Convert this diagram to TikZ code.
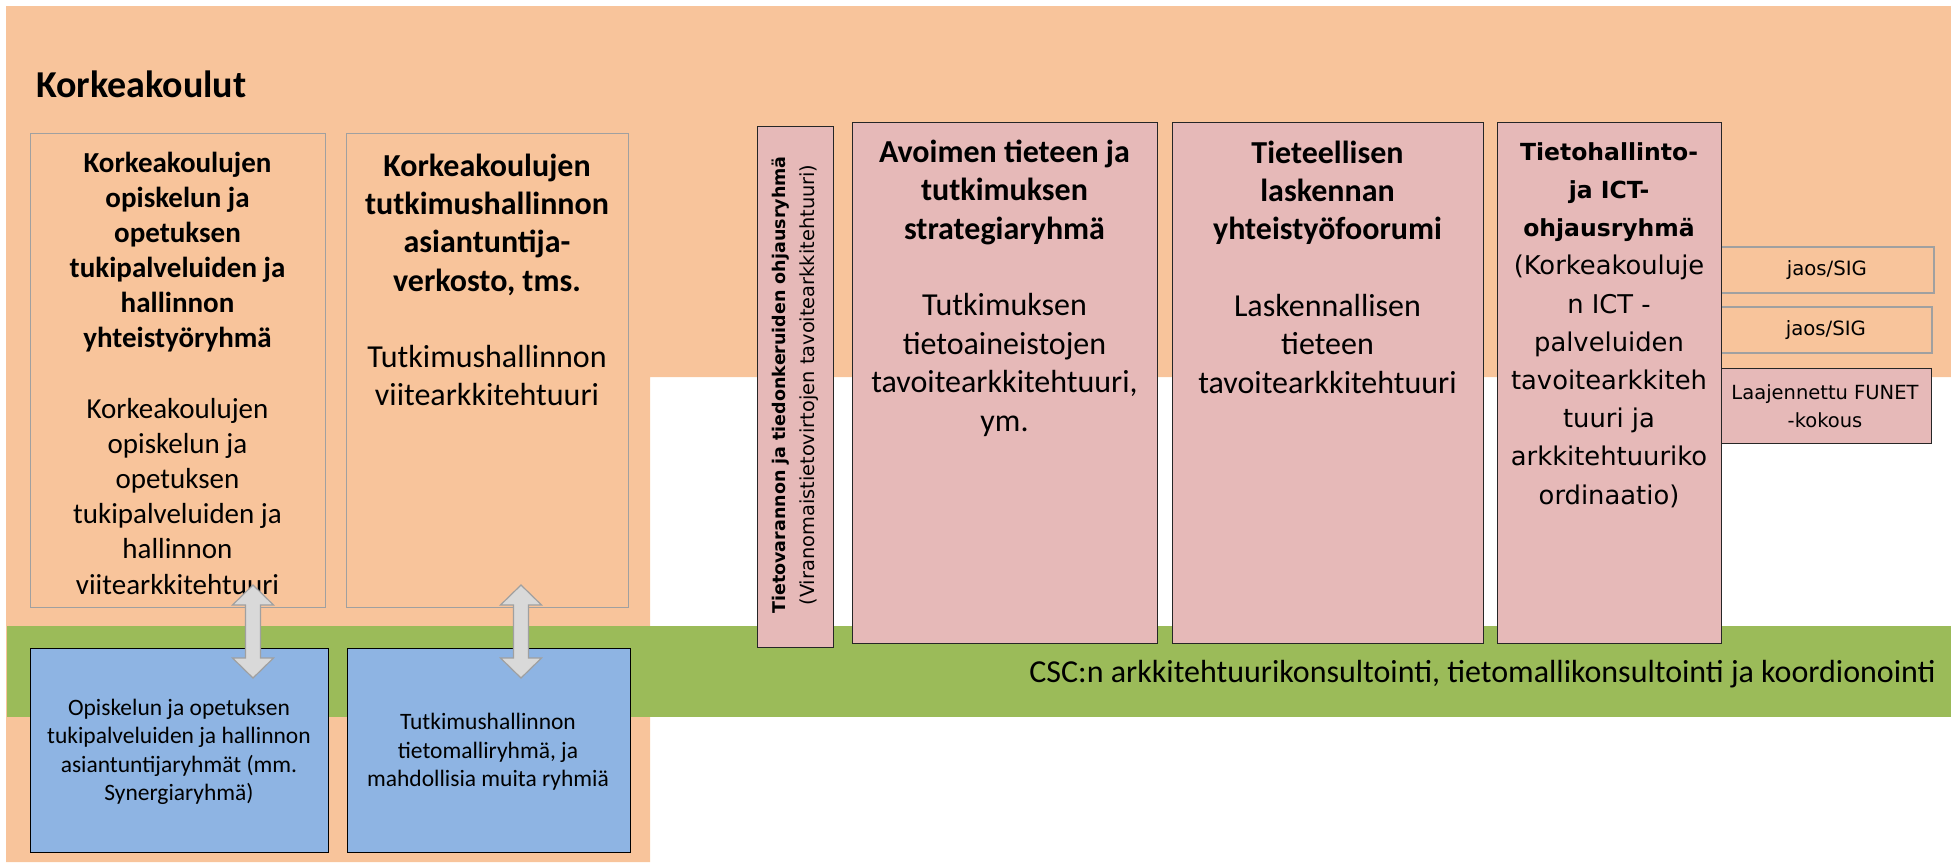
\documentclass[tikz,border=0pt]{standalone}
\usepackage{fontspec}
\setmainfont{Carlito}
\newfontfamily\dvs{DejaVu Sans}
\usetikzlibrary{calc}
\newcommand\myfs[2]{\fontsize{#1}{#2}\selectfont}
\definecolor{bgorange}{HTML}{F8C49B}
\definecolor{bandgreen}{HTML}{9BBB59}
\definecolor{pinkfill}{HTML}{E6B9B8}
\definecolor{bluefill}{HTML}{8EB4E3}
\definecolor{graybord}{HTML}{A0A0A0}
\definecolor{arrowfill}{HTML}{D9D9D9}
\definecolor{arrowline}{HTML}{A0A0A0}
\begin{document}
\begin{tikzpicture}[x=1pt,y=-1pt,
  orgbox/.style={draw=graybord, line width=1.3pt, fill=bgorange, inner sep=0pt, anchor=north west},
  pinkbox/.style={draw=black!85, line width=1.3pt, fill=pinkfill, inner sep=0pt, anchor=north west},
  bluebox/.style={draw=black, line width=1.3pt, fill=bluefill, inner sep=0pt, anchor=north west},
  sigbox/.style={draw=graybord, line width=1.6pt, fill=bgorange, inner sep=0pt, anchor=north west},
  txt/.style={inner sep=0pt, align=center, text=black},
  blockarrow/.style={draw=arrowline, line width=1.2pt, fill=arrowfill, line join=miter}
]
\useasboundingbox (0,0) rectangle (1951,862);
% background areas
\fill[bgorange] (6,6) -- (1951,6) -- (1951,377) -- (650,377) -- (650,862) -- (6,862) -- cycle;
\fill[bandgreen] (7,626) rectangle (1951,717);

% title
\node[txt, font=\myfs{38}{46}\bfseries, anchor=base west] (title) at (36,97) {Korkeakoulut};

% left orange boxes
\node[orgbox, minimum width=295, minimum height=474] (b1) at (30,133) {};
\node[orgbox, minimum width=282, minimum height=474] (b2) at (346,133) {};

% blue boxes
\node[bluebox, minimum width=298, minimum height=204] (u1) at (30,648) {};
\node[bluebox, minimum width=283, minimum height=204] (u2) at (347,648) {};

% pink boxes
\node[pinkbox, minimum width=76, minimum height=521] (p0) at (757,126) {};
\node[pinkbox, minimum width=305, minimum height=521] (p1) at (852,122) {};
\node[pinkbox, minimum width=311, minimum height=521] (p2) at (1172,122) {};

% side boxes
\node[sigbox, minimum width=214, minimum height=46] (s1) at (1719,246) {};
\node[sigbox, minimum width=212, minimum height=46] (s2) at (1719,306) {};
\node[pinkbox, minimum width=212, minimum height=75] (s3) at (1719,368) {};
\node[pinkbox, minimum width=224, minimum height=521] (p3) at (1497,122) {};

% texts
\node[txt, font=\myfs{29}{35.17}] (t1) at (177.5,373) {\textbf{Korkeakoulujen}\\\textbf{opiskelun ja}\\\textbf{opetuksen}\\\textbf{tukipalveluiden ja}\\\textbf{hallinnon}\\\textbf{yhteistyöryhmä}\\[35.17pt]Korkeakoulujen\\opiskelun ja\\opetuksen\\tukipalveluiden ja\\hallinnon\\viitearkkitehtuuri};

\node[txt, font=\myfs{32}{38.2}] (t2) at (487,280) {\textbf{Korkeakoulujen}\\\textbf{tutkimushallinnon}\\\textbf{asiantuntija-}\\\textbf{verkosto, tms.}\\[38.2pt]Tutkimushallinnon\\viitearkkitehtuuri};

\node[txt, rotate=90, font=\dvs\myfs{19.4}{29}] (tp0) at (795.5,385) {{\bfseries\fontsize{17.5}{29}\selectfont Tietovarannon ja tiedonkeruiden ohjausryhmä}\\(Viranomaistietovirtojen tavoitearkkitehtuuri)};

\node[txt, font=\myfs{32}{38.4}] (tp1) at (1004.5,288) {\textbf{Avoimen tieteen ja}\\\textbf{tutkimuksen}\\\textbf{strategiaryhmä}\\[38.4pt]Tutkimuksen\\tietoaineistojen\\tavoitearkkitehtuuri,\\ym.};

\node[txt, font=\myfs{32}{38.3}] (tp2) at (1327.5,267) {\textbf{Tieteellisen}\\\textbf{laskennan}\\\textbf{yhteistyöfoorumi}\\[38.3pt]Laskennallisen\\tieteen\\tavoitearkkitehtuuri};

\node[txt, font=\dvs\myfs{25.8}{38.2}] (tp3) at (1609,325) {{\bfseries\fontsize{23.5}{38.2}\selectfont Tietohallinto-}\\{\bfseries\fontsize{23.5}{38.2}\selectfont ja ICT-}\\{\bfseries\fontsize{23.5}{38.2}\selectfont ohjausryhmä}\\(Korkeakouluje\\n ICT -\\palveluiden\\tavoitearkkiteh\\tuuri ja\\arkkitehtuuriko\\ordinaatio)};

\node[txt, font=\dvs\myfs{19.7}{24}] (ts1) at (s1.center) {jaos/SIG};
\node[txt, font=\dvs\myfs{19.7}{24}] (ts2) at (s2.center) {jaos/SIG};
\node[txt, font=\dvs\myfs{19.5}{28}] (ts3) at (1825,406) {Laajennettu FUNET\\-kokous};

\node[txt, font=\myfs{23.5}{28.3}] (tu1) at (179,752) {Opiskelun ja opetuksen\\tukipalveluiden ja hallinnon\\asiantuntijaryhmät (mm.\\Synergiaryhmä)};
\node[txt, font=\myfs{23.5}{28.3}] (tu2) at (488,752) {Tutkimushallinnon\\tietomalliryhmä, ja\\mahdollisia muita ryhmiä};

\node[txt, anchor=east, font=\myfs{32}{38}] (csc) at (1936,674) {CSC:n arkkitehtuurikonsultointi, tietomallikonsultointi ja koordionointi};

% double block arrows
\coordinate (a1t) at (253,585);
\coordinate (a1b) at (253,678);
\coordinate (a2t) at (521,585);
\coordinate (a2b) at (521,678);
\draw[blockarrow] (a1t) -- ++(20.5,20) -- ++(-13,0) -- ($(a1b)+(7.5,-20)$) -- ++(13,0) -- (a1b) -- ++(-20.5,-20) -- ++(13,0) -- ($(a1t)+(-7.5,20)$) -- ++(-13,0) -- cycle;
\draw[blockarrow] (a2t) -- ++(20.5,20) -- ++(-13,0) -- ($(a2b)+(7.5,-20)$) -- ++(13,0) -- (a2b) -- ++(-20.5,-20) -- ++(13,0) -- ($(a2t)+(-7.5,20)$) -- ++(-13,0) -- cycle;
\end{tikzpicture}
\end{document}
